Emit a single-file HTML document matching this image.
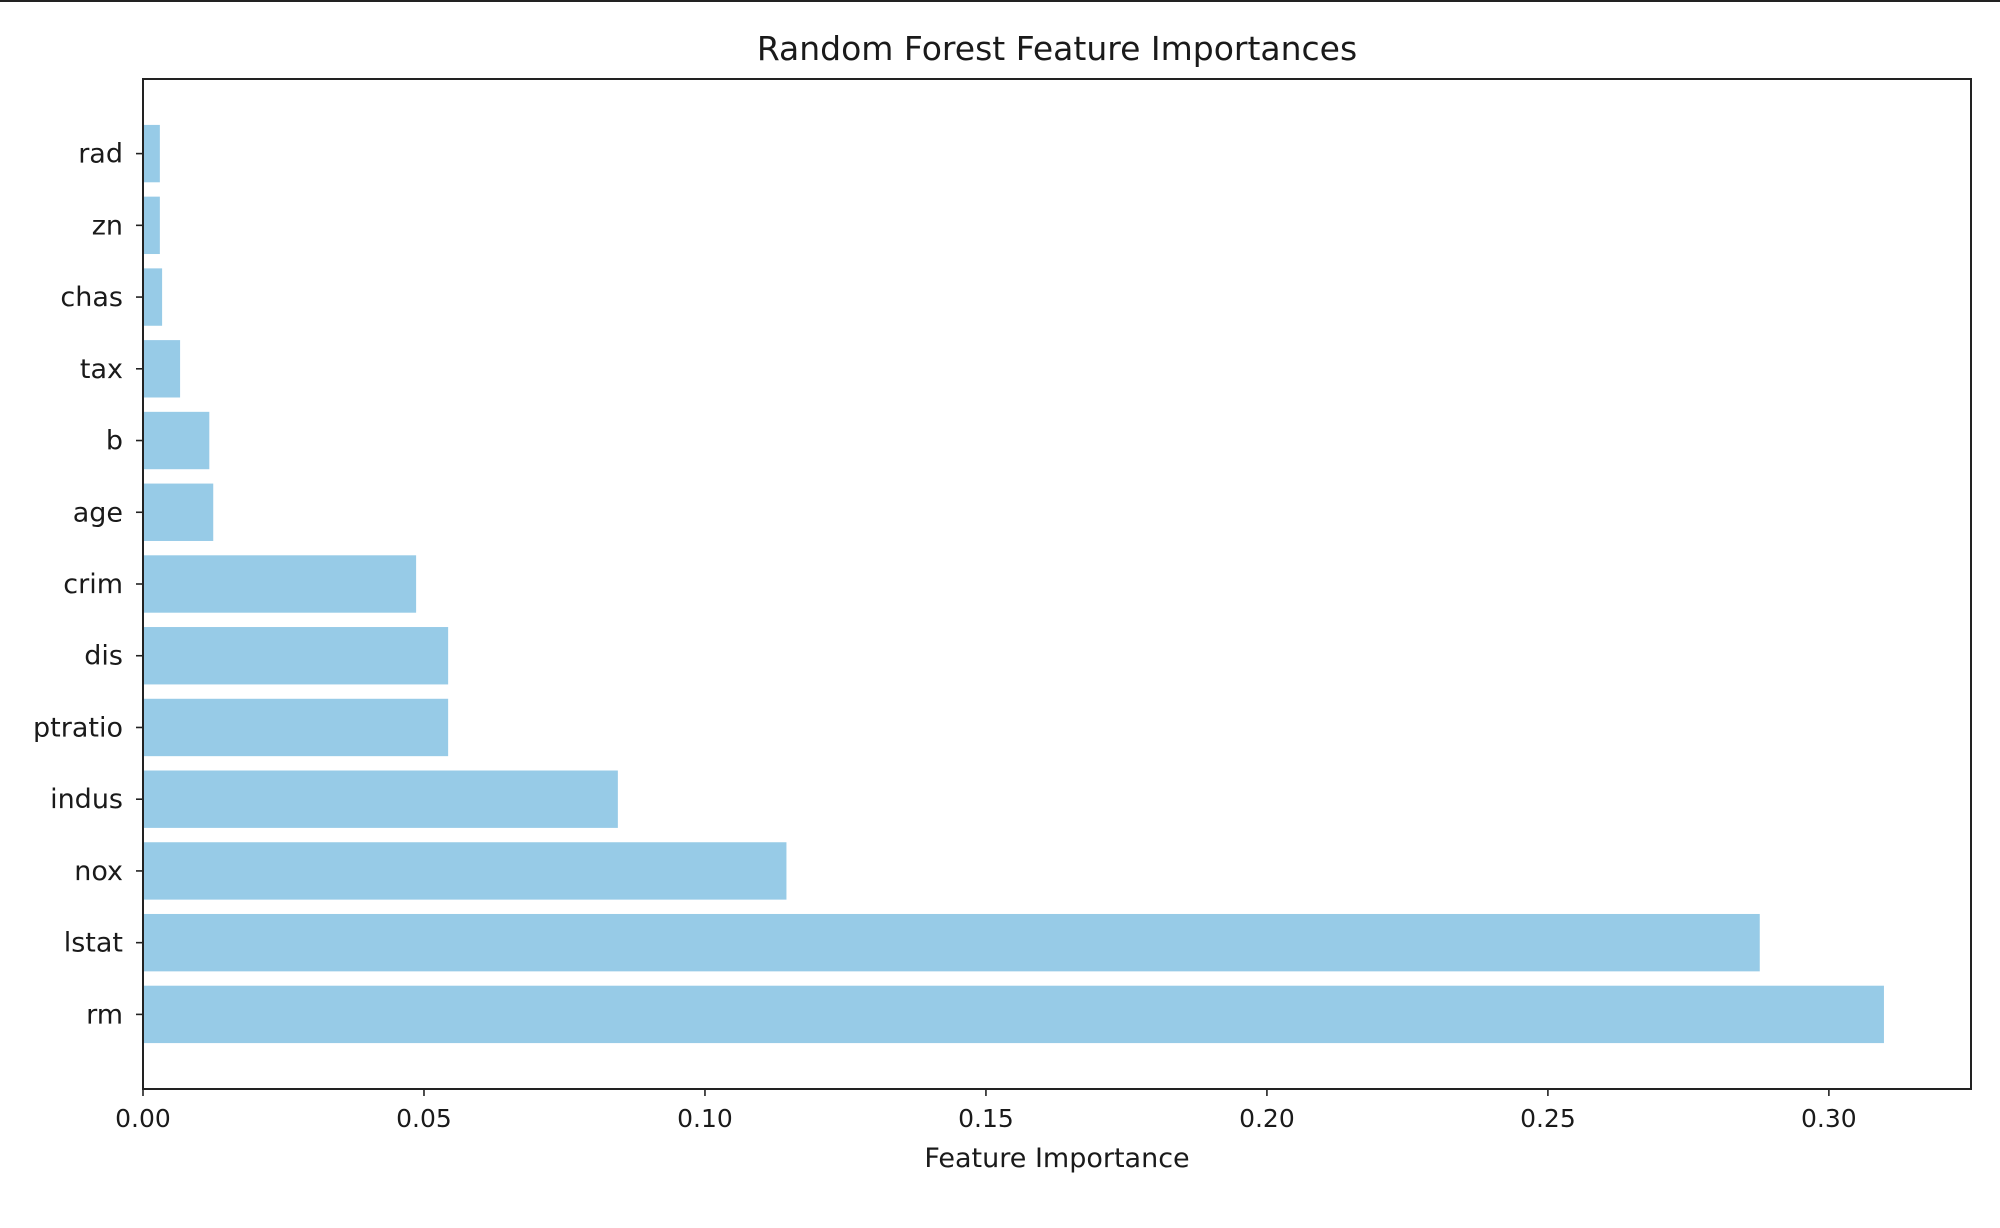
<!DOCTYPE html>
<html><head><meta charset="utf-8"><style>
html,body{margin:0;padding:0;background:#fff;width:2000px;height:1228px;overflow:hidden}
svg text{font-family:"DejaVu Sans","Liberation Sans",sans-serif;fill:#1a1a1a}
</style></head><body>
<svg id="chart" width="2000" height="1228" xmlns="http://www.w3.org/2000/svg">
<rect x="0" y="0" width="2000" height="2" fill="#222"/>
<text x="1057" y="60" font-size="33" text-anchor="middle">Random Forest Feature Importances</text>
<g id="bars"></g>
<g id="axes"></g>
<text x="1057" y="1167" font-size="27" text-anchor="middle">Feature Importance</text>
</svg>
<script>
const categories = ["rm","lstat","nox","indus","ptratio","dis","crim","age","b","tax","chas","zn","rad"];
const importances = [0.3098,0.2877,0.1145,0.0845,0.0543,0.0543,0.0486,0.0125,0.0118,0.0066,0.0034,0.003,0.003];
const xTicks = [0,0.05,0.10,0.15,0.20,0.25,0.30];
const xTickLabels = ["0.00","0.05","0.10","0.15","0.20","0.25","0.30"];

const L=143,R=1971,T=79,B=1089;
const xMax = Math.max(...importances)*1.05;
const n = categories.length;
const yMin=-0.4-0.05*(n-1+0.8), yMax=n-1+0.4+0.05*(n-1+0.8);
const xs=v=>L+(v/xMax)*(R-L);
const ys=v=>B-(v-yMin)/(yMax-yMin)*(B-T);
const NS="http://www.w3.org/2000/svg";
const bars=document.getElementById('bars'), axes=document.getElementById('axes');
function mk(tag,attrs,parent){const e=document.createElementNS(NS,tag);for(const k in attrs)e.setAttribute(k,attrs[k]);parent.appendChild(e);return e;}
categories.forEach((c,i)=>{
  const r=mk('rect',{x:L,y:ys(i+0.4),width:xs(importances[i])-L,height:ys(i-0.4)-ys(i+0.4),fill:'#97cbe7'},bars);
  
  
  const tk=mk('line',{x1:L-7,x2:L,y1:ys(i),y2:ys(i),stroke:'#222','stroke-width':1.6},axes);
  
  
  const t=mk('text',{x:L-20,y:ys(i)+9,'font-size':27,'text-anchor':'end'},axes);
  t.textContent=c;
  
  
});
xTicks.forEach((v,i)=>{
  const tk=mk('line',{x1:xs(v),x2:xs(v),y1:B,y2:B+7,stroke:'#222','stroke-width':1.6},axes);
  
  
  const t=mk('text',{x:xs(v),y:B+38,'font-size':25,'text-anchor':'middle'},axes);
  t.textContent=xTickLabels[i];
  
  
});
const frame=mk('rect',{x:L,y:T,width:R-L,height:B-T,fill:'none',stroke:'#222','stroke-width':2},axes);


</script>
</body></html>
